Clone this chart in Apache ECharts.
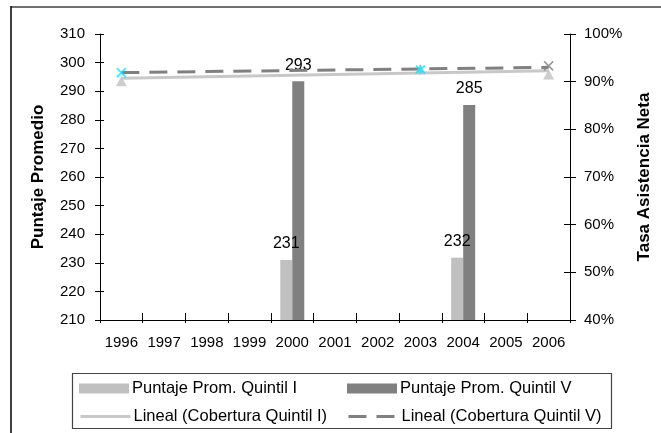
<!DOCTYPE html>
<html>
<head>
<meta charset="utf-8">
<script src="https://cdn.jsdelivr.net/npm/echarts@6/dist/echarts.min.js"></script>
<style>html,body{margin:0;padding:0;background:#fff}#c{width:661px;height:433px}</style>
</head>
<body>
<div id="c"></div>
<script>
var years = ['1996','1997','1998','1999','2000','2001','2002','2003','2004','2005','2006'];
var puntajeQ1 = ['-','-','-','-',231,'-','-','-',231.8,'-','-'];
var puntajeQ5 = ['-','-','-','-',293.5,'-','-','-',285.2,'-','-'];
var coberturaQ1 = [90.1,'-','-','-','-','-','-',92.6,'-','-',91.5];
var coberturaQ5 = [91.9,'-','-','-','-','-','-',92.6,'-','-',93.3];
var linealQ1 = [90.7,'-','-','-','-','-','-','-','-','-',92.3];
var linealQ5 = [91.9,'-','-','-','-','-','-','-','-','-',93.0];
var q5MarkerColors = ['#00E5FF','','','','','','','#00E5FF','','','#808080'];
var q5MarkerShapes = ['x','','','','','','','star','','',''];
var leftTicks = {min:210, max:310, interval:10};
var rightTicks = {min:40, max:100, interval:10};

var FONT = '"Liberation Sans", Arial, sans-serif';
var XPATH = 'path://M0,0L10,10M10,0L0,10';
var STARPATH = 'path://M0,0L10,10M10,0L0,10M5,-1L5,11';

var q5Data = coberturaQ5.map(function(v,i){
  if (v === '-') return '-';
  return {value: v, symbol: q5MarkerShapes[i]==='star'?STARPATH:XPATH,
          itemStyle:{color:'none', borderColor:q5MarkerColors[i], borderWidth:1.6}};
});

function legendItem(name, left, top, isLine){
  var lg = {orient:'horizontal', left:left, top:top, itemWidth:50, itemHeight:10, padding:0,
    textStyle:{fontFamily:FONT, fontSize:16.5, color:'#000', padding:[0,0,0,-2]},
    data:[name]};
  if (isLine) {
    lg.itemStyle = {color:'rgba(0,0,0,0)', borderColor:'rgba(0,0,0,0)', borderWidth:0};
    lg.lineStyle = {width:3};
  } else {
    lg.icon = 'rect';
  }
  return lg;
}

var chart = echarts.init(document.getElementById('c'), null, {renderer:'canvas'});
var axisText = {fontFamily:FONT, fontSize:15, color:'#000'};
chart.setOption({
  animation:false,
  backgroundColor:'#fff',
  textStyle:{fontFamily:FONT},
  grid:{left:100, right:88.5, top:34, bottom:113, containLabel:false},
  graphic:[
    {type:'line', shape:{x1:11,y1:7,x2:661,y2:7}, style:{stroke:'#707070', lineWidth:2}},
    {type:'line', shape:{x1:11,y1:6,x2:11,y2:433}, style:{stroke:'#000', lineWidth:1.5}},
    {type:'rect', shape:{x:72.5,y:373.5,width:539,height:55}, style:{fill:'none', stroke:'#444', lineWidth:1.2}}
  ],
  legend:[
    legendItem('Puntaje Prom. Quintil I', 79, 380, false),
    legendItem('Puntaje Prom. Quintil V', 347, 380, false),
    legendItem('Lineal (Cobertura Quintil I)', 79, 408, true),
    legendItem('Lineal (Cobertura Quintil V)', 347, 408, true)
  ],
  xAxis:[
    {type:'category', data:years, boundaryGap:true,
     axisLine:{lineStyle:{color:'#000', width:1}},
     axisTick:{show:true, length:3, lineStyle:{color:'#000'}},
     axisLabel:Object.assign({margin:15, interval:0}, axisText),
     splitLine:{show:false}},
    {type:'category', data:years, boundaryGap:true, position:'bottom',
     axisLine:{show:false}, axisLabel:{show:false},
     axisTick:{show:true, inside:true, length:7, lineStyle:{color:'#000'}}}
  ],
  yAxis:[
    {type:'value', position:'left', min:leftTicks.min, max:leftTicks.max, interval:leftTicks.interval,
     name:'Puntaje Promedio', nameLocation:'middle', nameRotate:90, nameGap:53,
     nameTextStyle:{fontFamily:FONT, fontSize:17, fontWeight:'bold', color:'#000'},
     axisLine:{show:true, lineStyle:{color:'#000'}},
     axisTick:{show:true, length:5, lineStyle:{color:'#000'}},
     axisLabel:Object.assign({margin:15}, axisText),
     splitLine:{show:false}},
    {type:'value', position:'right', min:rightTicks.min, max:rightTicks.max, interval:rightTicks.interval,
     name:'Tasa Asistencia Neta', nameLocation:'middle', nameRotate:90, nameGap:66,
     nameTextStyle:{fontFamily:FONT, fontSize:17, fontWeight:'bold', color:'#000'},
     axisLine:{show:true, lineStyle:{color:'#000'}},
     axisTick:{show:true, length:6, lineStyle:{color:'#000'}},
     axisLabel:Object.assign({margin:14, formatter:'{value}%'}, axisText),
     splitLine:{show:false}},
    {type:'value', position:'left', min:leftTicks.min, max:leftTicks.max, interval:leftTicks.interval,
     axisLine:{show:false}, axisLabel:{show:false}, splitLine:{show:false},
     axisTick:{show:true, inside:true, length:4, lineStyle:{color:'#000'}}},
    {type:'value', position:'right', min:rightTicks.min, max:rightTicks.max, interval:rightTicks.interval,
     axisLine:{show:false}, axisLabel:{show:false}, splitLine:{show:false},
     axisTick:{show:true, inside:true, length:6, lineStyle:{color:'#000'}}}
  ],
  series:[
    {name:'Puntaje Prom. Quintil I', type:'bar', data:puntajeQ1, barWidth:12, barGap:'0%',
     itemStyle:{color:'#C0C0C0'},
     label:{show:true, position:'top', distance:8, fontFamily:FONT, fontSize:16, color:'#000',
            formatter:function(p){return Math.round(p.value);}}},
    {name:'Puntaje Prom. Quintil V', type:'bar', data:puntajeQ5, barWidth:12, barGap:'0%',
     itemStyle:{color:'#808080'},
     label:{show:true, position:'top', distance:8, fontFamily:FONT, fontSize:16, color:'#000',
            formatter:function(p){return Math.floor(p.value);}}},
    {name:'Lineal (Cobertura Quintil I)', type:'line', yAxisIndex:1, data:linealQ1, connectNulls:true,
     symbol:'none', lineStyle:{color:'#C8C8C8', width:3}, itemStyle:{color:'#C8C8C8'}, z:3},
    {name:'Lineal (Cobertura Quintil V)', type:'line', yAxisIndex:1, data:linealQ5, connectNulls:true,
     symbol:'none', lineStyle:{color:'#808080', width:3, type:[18,10]}, itemStyle:{color:'#808080'}, z:4},
    {name:'Cobertura Quintil I', type:'scatter', yAxisIndex:1, data:coberturaQ1, symbol:'triangle',
     symbolSize:[11,10], itemStyle:{color:'#C0C0C0'}, z:5},
    {name:'Cobertura Quintil V', type:'scatter', yAxisIndex:1, data:q5Data, symbolSize:9, z:6}
  ]
});
</script>
</body>
</html>
